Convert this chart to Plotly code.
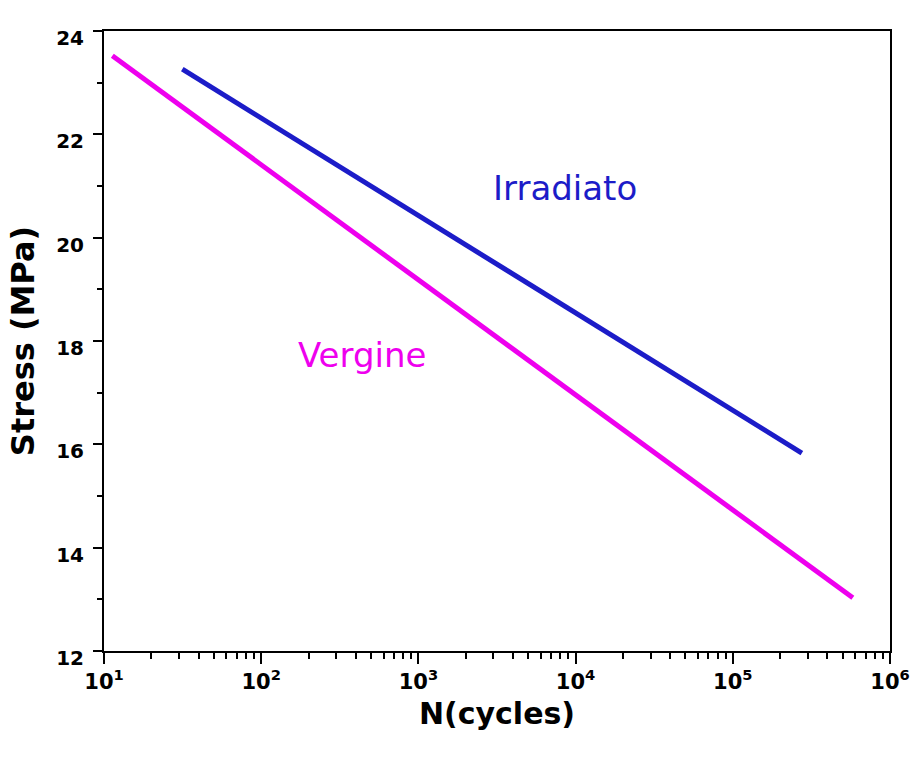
import plotly.graph_objects as go

# Data
vergine_N = [11.3, 580000]
vergine_S = [23.52, 13.03]
irradiato_N = [31.5, 275000]
irradiato_S = [23.26, 15.83]

x_ticks = [10, 100, 1000, 10000, 100000, 1000000]
x_ticktext = ["10<sup>1</sup>", "10<sup>2</sup>", "10<sup>3</sup>",
              "10<sup>4</sup>", "10<sup>5</sup>", "10<sup>6</sup>"]
y_ticks = [12, 14, 16, 18, 20, 22, 24]
y_ticktext = ["%d" % v for v in y_ticks]

x_minor = [m * 10 ** e for e in range(1, 6) for m in range(2, 10)]
y_minor = [13, 15, 17, 19, 21, 23]

blue = "#1c1cc8"
magenta = "#ee00ee"
font = "DejaVu Sans, Verdana, sans-serif"

fig = go.Figure()
fig.add_trace(go.Scatter(x=vergine_N, y=vergine_S, mode="lines",
                         line=dict(color=magenta, width=5), showlegend=False))
fig.add_trace(go.Scatter(x=irradiato_N, y=irradiato_S, mode="lines",
                         line=dict(color=blue, width=5), showlegend=False))

fig.add_annotation(x=3.93, y=20.96, xref="x", yref="y", text="Irradiato", showarrow=False,
                   font=dict(family=font, size=34, color=blue))
fig.add_annotation(x=2.64, y=17.73, xref="x", yref="y", text="Vergine", showarrow=False,
                   font=dict(family=font, size=34, color=magenta))

fig.update_layout(
    width=912, height=758,
    margin=dict(l=104, r=22, t=31, b=107),
    plot_bgcolor="white", paper_bgcolor="white",
    font=dict(family=font, color="black"),
)
fig.update_xaxes(
    type="log", range=[1, 6], automargin=False,
    tickmode="array", tickvals=x_ticks, ticktext=x_ticktext,
    tickfont=dict(family=font, size=21, color="black", weight="bold"),
    ticks="outside", ticklen=11, tickwidth=2, tickcolor="black",
    minor=dict(tickmode="array", tickvals=x_minor, ticks="outside", ticklen=6, tickwidth=2, tickcolor="black"),
    showline=True, linecolor="black", linewidth=2, mirror=True,
    showgrid=False, zeroline=False,
    title=dict(text="N(cycles)", font=dict(family=font, size=30, color="black", weight="bold"), standoff=10),
)
fig.update_yaxes(
    range=[12, 24], automargin=False,
    tickmode="array", tickvals=y_ticks, ticktext=y_ticktext,
    tickfont=dict(family=font, size=20, color="black", weight="bold"),
    ticks="outside", ticklen=9, tickwidth=2, tickcolor="black",
    ticklabelstandoff=5, ticklabelshift=7,
    minor=dict(tickmode="array", tickvals=y_minor, ticks="outside", ticklen=5, tickwidth=2, tickcolor="black"),
    showline=True, linecolor="black", linewidth=2, mirror=True,
    showgrid=False, zeroline=False,
    title=dict(text="Stress (MPa)", font=dict(family=font, size=32, color="black", weight="bold"), standoff=12),
)

fig.write_html("out.html")
